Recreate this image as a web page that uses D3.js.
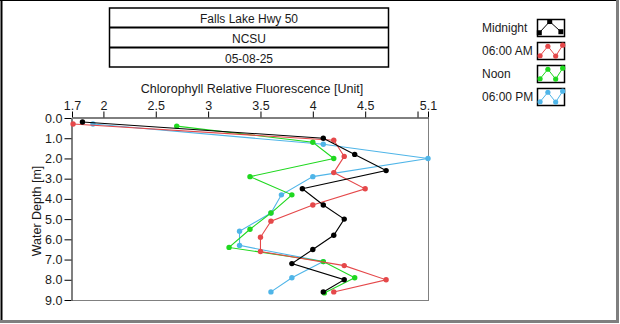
<!DOCTYPE html>
<html>
<head>
<meta charset="utf-8">
<script src="https://cdn.jsdelivr.net/npm/d3@7"></script>
<style>
  html, body { margin: 0; padding: 0; background: #fff; }
  svg { display: block; }
  text { font-family: "Liberation Sans", Arial, sans-serif; fill: #1a1a1a; }
</style>
</head>
<body>
<script>
// Profile station and date
const titleLines = ["Falls Lake Hwy 50", "NCSU", "05-08-25"];

// Axis ticks
const xTickValues = [1.7, 2, 2.5, 3, 3.5, 4, 4.5, 5, 5.1];
const xTickLabels = ["1.7", "2", "2.5", "3", "3.5", "4", "4.5", "", "5.1"];
const yTickValues = [0, 1, 2, 3, 4, 5, 6, 7, 8, 9];

// Series names
const seriesNames = ["Midnight", "06:00 AM", "Noon", "06:00 PM"];

// Depth [m] and chlorophyll relative fluorescence per cast
const depthMidnight = [0.2, 1.0, 1.8, 2.6, 3.5, 4.3, 5.0, 5.8, 6.5, 7.2, 8.0, 8.6];
const chlMidnight   = [1.8, 4.1, 4.4, 4.7, 3.9, 4.1, 4.3, 4.2, 4.0, 3.8, 4.3, 4.1];

const depth6am = [0.3, 1.1, 1.9, 2.7, 3.5, 4.3, 5.1, 5.9, 6.6, 7.3, 8.0, 8.6];
const chl6am   = [1.71, 4.2, 4.3, 4.2, 4.5, 4.0, 3.6, 3.5, 3.5, 4.3, 4.7, 4.2];

const depthNoon = [0.4, 1.2, 2.0, 2.9, 3.8, 4.7, 5.5, 6.4, 7.1, 7.9, 8.65];
const chlNoon   = [2.7, 4.0, 4.2, 3.4, 3.8, 3.6, 3.4, 3.2, 4.1, 4.4, 4.11];

const depth6pm = [0.3, 1.3, 2.0, 2.9, 3.8, 4.7, 5.6, 6.3, 7.1, 7.9, 8.6];
const chl6pm   = [1.9, 4.1, 5.1, 4.0, 3.7, 3.6, 3.3, 3.3, 4.1, 3.8, 3.6];

const seriesColors = ["#000000", "#e5484a", "#1fd81f", "#4fb5e8"];

const series = [
  { name: seriesNames[0], color: seriesColors[0], depth: depthMidnight, chl: chlMidnight },
  { name: seriesNames[1], color: seriesColors[1], depth: depth6am, chl: chl6am },
  { name: seriesNames[2], color: seriesColors[2], depth: depthNoon, chl: chlNoon },
  { name: seriesNames[3], color: seriesColors[3], depth: depth6pm, chl: chl6pm }
];

const W = 620, H = 324;
const FS = 12.5;
const svg = d3.select("body").append("svg").attr("width", W).attr("height", H);

// Panel frame: dark top/left edges, grey bottom/right edges
svg.append("rect").attr("x", 0).attr("y", 0).attr("width", W).attr("height", H).attr("fill", "#fff");
svg.append("line").attr("x1", 0).attr("x2", 617).attr("y1", 0.5).attr("y2", 0.5).attr("stroke", "#000").attr("stroke-width", 1);
svg.append("line").attr("x1", 1.5).attr("x2", 1.5).attr("y1", 0).attr("y2", 320).attr("stroke", "#000").attr("stroke-width", 2);
svg.append("line").attr("x1", 617.5).attr("x2", 617.5).attr("y1", 0).attr("y2", 323).attr("stroke", "#7f7f7f").attr("stroke-width", 3);
svg.append("line").attr("x1", 0).attr("x2", 619).attr("y1", 321.5).attr("y2", 321.5).attr("stroke", "#7f7f7f").attr("stroke-width", 3);

// Title table
const tb = { x: 109.5, y: 8, w: 279, rowH: 20 };
svg.append("rect").attr("x", tb.x).attr("y", tb.y).attr("width", tb.w).attr("height", tb.rowH * 3 - 1)
  .attr("fill", "none").attr("stroke", "#000").attr("stroke-width", 1.5);
[1, 2].forEach(i => {
  svg.append("line").attr("x1", tb.x).attr("x2", tb.x + tb.w)
    .attr("y1", tb.y + i * tb.rowH - 0.5).attr("y2", tb.y + i * tb.rowH - 0.5)
    .attr("stroke", "#000").attr("stroke-width", 2);
});
titleLines.forEach((t, i) => {
  svg.append("text").attr("x", tb.x + tb.w / 2).attr("y", tb.y + i * tb.rowH + 14.5)
    .attr("text-anchor", "middle").attr("font-size", 12).text(t);
});

// Plot area
const x = d3.scaleLinear().domain([1.7, 5.1]).range([72, 428]);
const y = d3.scaleLinear().domain([0, 9]).range([118, 300]);

// Plot border (right and bottom in grey)
svg.append("line").attr("x1", 428.5).attr("x2", 428.5).attr("y1", 118).attr("y2", 300.5).attr("stroke", "#808080");
svg.append("line").attr("x1", 72).attr("x2", 429).attr("y1", 300.5).attr("y2", 300.5).attr("stroke", "#808080");

// Top axis
const xAxis = d3.axisTop(x).tickValues(xTickValues).tickSizeInner(6).tickSizeOuter(0).tickPadding(2)
  .tickFormat((d, i) => xTickLabels[i]);
const gx = svg.append("g").attr("transform", "translate(0,117.5)").call(xAxis);
gx.select(".domain").attr("stroke", "#000");
gx.selectAll(".tick line").attr("stroke", "#000");
gx.selectAll(".tick text").attr("font-size", FS).attr("font-family", "Liberation Sans, Arial, sans-serif").attr("fill", "#1a1a1a");

// Left axis
const yAxis = d3.axisLeft(y).tickValues(yTickValues).tickSizeInner(7).tickSizeOuter(0).tickPadding(2)
  .tickFormat(d3.format(".1f"));
const gy = svg.append("g").attr("transform", "translate(71.5,0)").call(yAxis);
gy.select(".domain").attr("stroke", "#000");
gy.selectAll(".tick line").attr("stroke", "#000");
gy.selectAll(".tick text").attr("font-size", FS).attr("font-family", "Liberation Sans, Arial, sans-serif").attr("fill", "#1a1a1a");

// Axis titles
svg.append("text").attr("x", 252).attr("y", 93).attr("text-anchor", "middle").attr("font-size", FS)
  .text("Chlorophyll Relative Fluorescence [Unit]");
svg.append("text").attr("transform", "translate(41,211) rotate(-90)").attr("text-anchor", "middle")
  .attr("font-size", FS).text("Water Depth [m]");

// Profiles (midnight drawn last, on top)
const line = d3.line().x(d => x(d[0])).y(d => y(d[1]));
const plot = svg.append("g");
series.slice().reverse().forEach(s => {
  const pts = s.chl.map((v, i) => [v, s.depth[i]]);
  plot.append("path").attr("d", line(pts)).attr("fill", "none")
    .attr("stroke", s.color).attr("stroke-width", 1.1);
  plot.selectAll(null).data(pts).enter().append("circle")
    .attr("cx", d => x(d[0])).attr("cy", d => y(d[1])).attr("r", 2.7).attr("fill", s.color);
});

// Legend
const lg = svg.append("g");
const legendIcon = {
  0: [[0.05, 0.78], [0.45, 0.12], [0.88, 0.72]],
  1: [[0.08, 0.78], [0.38, 0.22], [0.68, 0.80], [0.95, 0.16]]
};
series.forEach((s, i) => {
  const top = 20 + i * 23;
  lg.append("text").attr("x", 482).attr("y", top + 12).attr("font-size", 12).text(s.name);
  const bx = 537, bw = 27, bh = 17;
  lg.append("rect").attr("x", bx + 0.5).attr("y", top + 0.5 - 1).attr("width", bw).attr("height", bh)
    .attr("fill", "#fff").attr("stroke", "#000").attr("stroke-width", 1.5);
  const shape = i === 0 ? legendIcon[0] : legendIcon[1];
  const ip = shape.map(p => [bx + 1 + p[0] * (bw - 1), top - 0.5 + p[1] * bh]);
  lg.append("path").attr("d", d3.line()(ip)).attr("fill", "none").attr("stroke", s.color).attr("stroke-width", 1);
  lg.selectAll(null).data(ip).enter().append(i === 0 ? "rect" : "circle")
    .each(function(d) {
      const el = d3.select(this);
      if (i === 0) el.attr("x", d[0] - 2.5).attr("y", d[1] - 2.5).attr("width", 5).attr("height", 5).attr("fill", s.color);
      else el.attr("cx", d[0]).attr("cy", d[1]).attr("r", 2.6).attr("fill", s.color);
    });
});
</script>
</body>
</html>
